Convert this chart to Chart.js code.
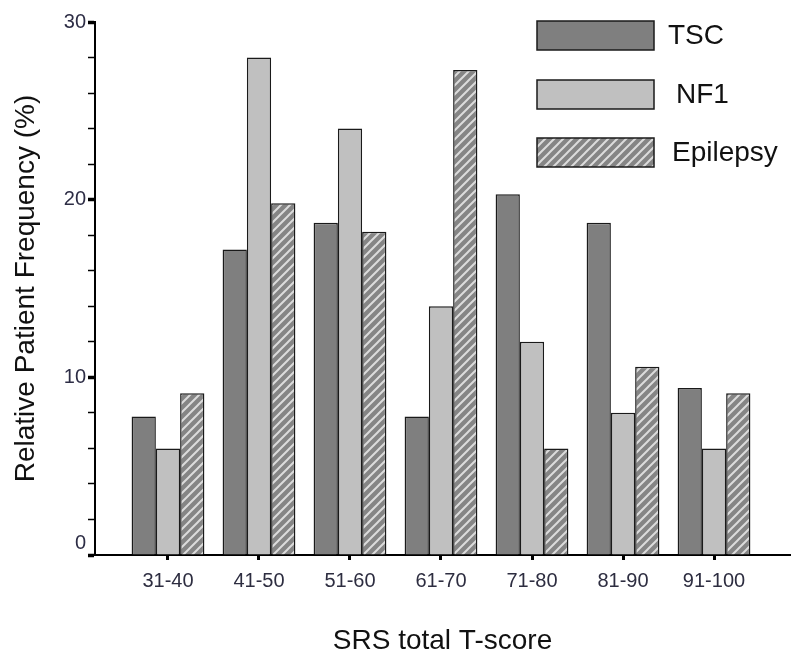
<!DOCTYPE html>
<html>
<head>
<meta charset="utf-8">
<script src="https://cdn.jsdelivr.net/npm/chart.js@4.4.1/dist/chart.umd.min.js"></script>
<style>
    html, body { margin: 0; padding: 0; background: #fff; }
    #wrap { width: 800px; height: 664px; }
</style>
</head>
<body>
<div id="wrap"><canvas id="chart"></canvas></div>
<script>
const categories = ['31-40', '41-50', '51-60', '61-70', '71-80', '81-90', '91-100'];
const tscValues = [7.8, 17.2, 18.7, 7.8, 20.3, 18.7, 9.4];
const nf1Values = [6.0, 28.0, 24.0, 14.0, 12.0, 8.0, 6.0];
const epilepsyValues = [9.1, 19.8, 18.2, 27.3, 6.0, 10.6, 9.1];
const seriesNames = ['TSC', 'NF1', 'Epilepsy'];
const yLabelled = [0, 10, 20, 30];

const FONT = '"Liberation Sans", Arial, sans-serif';

function makeHatch() {
    const s = 9;
    const c = document.createElement('canvas');
    c.width = s; c.height = s;
    const g = c.getContext('2d');
    g.fillStyle = '#858585';
    g.fillRect(0, 0, s, s);
    g.strokeStyle = '#dcdcdc';
    g.lineWidth = 2;
    g.beginPath();
    g.moveTo(0, s); g.lineTo(s, 0);
    g.moveTo(-3, 3); g.lineTo(3, -3);
    g.moveTo(s - 3, s + 3); g.lineTo(s + 3, s - 3);
    g.stroke();
    return g.createPattern(c, 'repeat');
}

const toPoints = (vals) => vals.map((v, i) => ({ x: i + 1, y: v }));

const barStyle = {
    borderColor: '#1a1a1a',
    borderWidth: 1.5,
    borderSkipped: 'bottom',
    barPercentage: 1.0,
    categoryPercentage: 0.8
};

// legend drawn as stacked boxes in the top right corner
const boxLegend = {
    id: 'boxLegend',
    afterDraw(chart) {
        const ctx = chart.ctx;
        const left = 537, w = 117, h = 29;
        const tops = [21, 80, 138];
        const textX = [668, 676, 672];
        ctx.save();
        chart.data.datasets.forEach((ds, i) => {
            ctx.fillStyle = ds.backgroundColor;
            ctx.fillRect(left, tops[i], w, h);
            ctx.strokeStyle = '#1a1a1a';
            ctx.lineWidth = 1.5;
            ctx.strokeRect(left, tops[i], w, h);
            ctx.fillStyle = '#111';
            ctx.font = '28px ' + FONT;
            ctx.textBaseline = 'middle';
            ctx.fillText(ds.label, textX[i], tops[i] + h / 2 + 1);
        });
        ctx.restore();
    }
};

const ctx = document.getElementById('chart');
new Chart(ctx, {
    type: 'bar',
    data: {
        datasets: [
            { label: seriesNames[0], data: toPoints(tscValues), backgroundColor: '#7f7f7f', ...barStyle },
            { label: seriesNames[1], data: toPoints(nf1Values), backgroundColor: '#c0c0c0', ...barStyle },
            { label: seriesNames[2], data: toPoints(epilepsyValues), backgroundColor: makeHatch(), ...barStyle }
        ]
    },
    options: {
        responsive: true,
        maintainAspectRatio: false,
        animation: false,
        layout: { padding: { top: 22, right: 10, left: 0, bottom: 0 } },
        plugins: {
            legend: { display: false },
            tooltip: { enabled: false }
        },
        scales: {
            x: {
                type: 'linear',
                offset: false,
                min: 0.198,
                max: 7.835,
                afterBuildTicks: (scale) => {
                    scale.ticks = categories.map((c, i) => ({ value: i + 1 }));
                },
                afterFit: (scale) => { scale.height = 109; },
                ticks: {
                    autoSkip: false,
                    maxRotation: 0,
                    padding: 9,
                    color: '#2d2d40',
                    font: { family: FONT, size: 20 },
                    callback: (v) => categories[Math.round(v) - 1] || ''
                },
                grid: {
                    offset: false,
                    drawOnChartArea: false,
                    drawTicks: true,
                    tickLength: 5,
                    tickColor: '#000',
                    tickWidth: 3
                },
                border: { display: true, color: '#000', width: 2 },
                title: {
                    display: true,
                    text: 'SRS total T-score',
                    color: '#111',
                    font: { family: FONT, size: 28 },
                    padding: { top: 0, bottom: 6 }
                }
            },
            y: {
                min: 0,
                max: 30,
                afterFit: (scale) => { scale.width = 95; },
                ticks: {
                    stepSize: 2,
                    autoSkip: false,
                    padding: 2,
                    color: '#2d2d45',
                    font: { family: FONT, size: 20 },
                    // the zero label sits a little above its tick in the original
                    callback: (v) => v === 0 ? ['0', ''] : (yLabelled.includes(v) ? String(v) : '')
                },
                grid: {
                    drawOnChartArea: false,
                    drawTicks: true,
                    tickLength: 7,
                    tickColor: '#000',
                    tickWidth: (c) => (c.tick && c.tick.value % 10 === 0) ? 3.5 : 1.5
                },
                border: { display: true, color: '#000', width: 2 },
                title: {
                    display: true,
                    text: 'Relative Patient Frequency (%)',
                    color: '#111',
                    font: { family: FONT, size: 28 },
                    padding: { top: 9, bottom: 0 }
                }
            }
        }
    },
    plugins: [boxLegend]
});
</script>
</body>
</html>
